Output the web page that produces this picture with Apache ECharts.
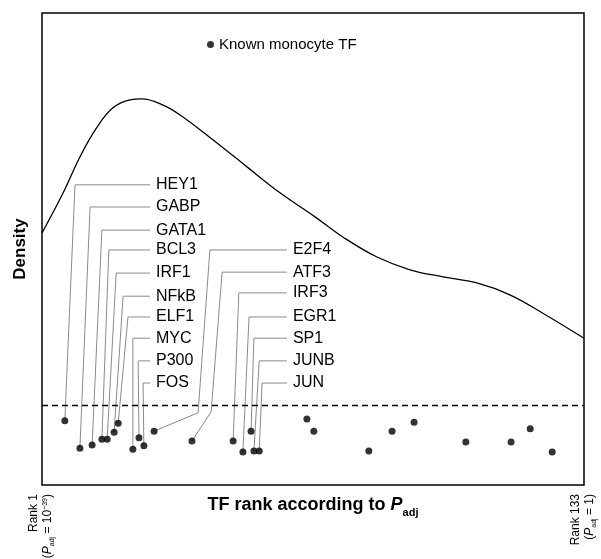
<!DOCTYPE html>
<html>
<head>
<meta charset="utf-8">
<script src="https://cdn.jsdelivr.net/npm/echarts@6/dist/echarts.min.js"></script>
<style>
html,body{margin:0;padding:0;background:#fff;}
#chart{width:601px;height:559px;}
</style>
</head>
<body>
<div id="chart"></div>
<script>
// ---- Data ----
const tfNames = ['HEY1','GABP','GATA1','BCL3','IRF1','NFkB','ELF1','MYC','P300','FOS','E2F4','ATF3','IRF3','EGR1','SP1','JUNB','JUN'];
const tfRank = [5.6, 9.3, 12.3, 14.7, 16.0, 17.7, 18.7, 22.3, 23.8, 25.0, 27.5, 36.8, 46.9, 49.3, 51.3, 52.0, 53.3];
const tfJitter = [13.6, 7.8, 8.5, 9.7, 9.7, 11.2, 13.1, 7.6, 10.0, 8.3, 11.4, 9.3, 9.3, 7.0, 11.4, 7.2, 7.2];
const otherRank = [65.0, 66.7, 80.2, 85.9, 91.3, 104.0, 115.1, 119.8, 125.2];
const otherJitter = [14.0, 11.4, 7.2, 11.4, 13.3, 9.1, 9.1, 11.9, 7.0];
const densityX = [0, 5.2, 9.3, 13.5, 17.4, 21.6, 24.5, 29.7, 33.9, 42.0, 50.3, 58.4, 67.0, 73.9, 82.2, 90.3, 98.4, 106.7, 114.8, 122.9, 133];
const densityY = [53.4, 61.9, 69.5, 75.8, 79.9, 81.6, 81.8, 80.5, 78.4, 73.1, 67.4, 61.9, 56.8, 52.5, 48.3, 45.6, 44.1, 42.8, 40.3, 36.4, 31.1];
const thresholdY = 16.9;
const rankMin = 0, rankMax = 133;

// ---- Label layout (annotation placement, data units) ----
const leaderTopX = [8.1, 11.8, 14.7, 16.4, 18.2, 19.9, 21.1, 22.3, 23.6, 24.8, 41.2, 44.2, 48.3, 50.8, 52.0, 53.3, 54.0];
const leaderRowY = [63.6, 58.9, 54.0, 49.8, 44.9, 40.0, 35.6, 31.1, 26.3, 21.6, 49.8, 45.1, 40.7, 35.6, 31.1, 26.3, 21.6];
const leaderEndX = [26.5, 26.5, 26.5, 26.5, 26.5, 26.5, 26.5, 26.5, 26.5, 26.5, 60.1, 60.1, 60.1, 60.1, 60.1, 60.1, 60.1];
const leaderBend = {10: [38.3, 15.3], 11: [41.5, 15.5]};

const FONT = "'Liberation Sans', Arial, sans-serif";

const allPoints = tfRank.map((r, i) => [r, tfJitter[i]]).concat(otherRank.map((r, i) => [r, otherJitter[i]]));
const curve = densityX.map((x, i) => [x, densityY[i]]);
const leaderData = tfNames.map((n, i) => [tfRank[i], tfJitter[i], i]);

const chart = echarts.init(document.getElementById('chart'));
chart.setOption({
  animation: false,
  backgroundColor: '#fff',
  grid: {left: 42, right: 17, top: 13, bottom: 74, show: true, borderColor: '#000', borderWidth: 1.5, outerBoundsMode: 'none'},
  legend: {
    data: [{name: 'Known monocyte TF', icon: 'circle'}],
    left: 202, top: 32, itemWidth: 7, itemHeight: 7, itemGap: 6,
    textStyle: {fontFamily: FONT, fontSize: 15, color: '#000'}
  },
  xAxis: {
    type: 'value', min: rankMin, max: rankMax,
    axisLine: {show: false}, axisTick: {show: false}, splitLine: {show: false},
    axisLabel: {
      customValues: [rankMin, rankMax], rotate: 90, margin: 9, align: 'right', verticalAlign: 'middle',
      fontFamily: FONT, color: '#000',
      formatter: v => v === rankMin
        ? '{t|Rank 1}\n{t|(}{p|P}{s|adj}{t| = 10}{u|−39}{t|)}'
        : '{t|Rank 133}\n{t|(}{p|P}{s|adj}{t| = 1)}',
      rich: {
        t: {fontFamily: FONT, fontSize: 12, color: '#000', lineHeight: 14, verticalAlign: 'top'},
        p: {fontFamily: FONT, fontSize: 12, color: '#000', fontStyle: 'italic', lineHeight: 14, verticalAlign: 'top'},
        s: {fontFamily: FONT, fontSize: 7, color: '#000', lineHeight: 7, verticalAlign: 'bottom'},
        u: {fontFamily: FONT, fontSize: 7, color: '#000', lineHeight: 7, verticalAlign: 'top'}
      }
    },
    name: '{b|TF rank according to }{p|P}{s|adj}',
    nameLocation: 'middle', nameGap: 11, nameMoveOverlap: false,
    nameTextStyle: {
      rich: {
        b: {fontFamily: FONT, fontSize: 18, fontWeight: 'bold', color: '#000', lineHeight: 22, verticalAlign: 'top'},
        p: {fontFamily: FONT, fontSize: 18, fontWeight: 'bold', fontStyle: 'italic', color: '#000', lineHeight: 22, verticalAlign: 'top'},
        s: {fontFamily: FONT, fontSize: 11, fontWeight: 'bold', color: '#000', lineHeight: 11, verticalAlign: 'bottom'}
      }
    }
  },
  yAxis: {
    type: 'value', min: 0, max: 100,
    axisLine: {show: false}, axisTick: {show: false}, splitLine: {show: false}, axisLabel: {show: false},
    name: 'Density', nameLocation: 'middle', nameRotate: 90, nameGap: 13, nameMoveOverlap: false,
    nameTextStyle: {fontFamily: FONT, fontSize: 17, fontWeight: 'bold', color: '#000'}
  },
  series: [
    {
      type: 'line', data: curve, smooth: 0.4, showSymbol: false, symbol: 'none',
      lineStyle: {color: '#000', width: 1.3}, z: 2, silent: true
    },
    {
      type: 'custom', z: 3, silent: true,
      data: leaderData,
      renderItem: (params, api) => {
        const i = api.value(2);
        const p0 = api.coord([api.value(0), api.value(1)]);
        const pts = [p0];
        if (leaderBend[i]) pts.push(api.coord(leaderBend[i]));
        const top = api.coord([leaderTopX[i], leaderRowY[i]]);
        const end = api.coord([leaderEndX[i], leaderRowY[i]]);
        pts.push(top, end);
        return {
          type: 'group',
          children: [
            {type: 'polyline', shape: {points: pts}, style: {stroke: '#8a8a8a', lineWidth: 1, fill: null}},
            {type: 'text', style: {text: tfNames[i], x: end[0] + 6, y: end[1], verticalAlign: 'middle', align: 'left',
              fill: '#000', font: '16px ' + FONT}}
          ]
        };
      }
    },
    {
      name: 'Known monocyte TF', type: 'scatter', data: allPoints, symbol: 'circle', symbolSize: 7,
      itemStyle: {color: '#000'}, z: 5,
      markLine: {
        silent: true, symbol: 'none', label: {show: false},
        lineStyle: {color: '#000', type: [6, 4], width: 1.3},
        data: [{yAxis: thresholdY}]
      }
    }
  ]
});
</script>
</body>
</html>
